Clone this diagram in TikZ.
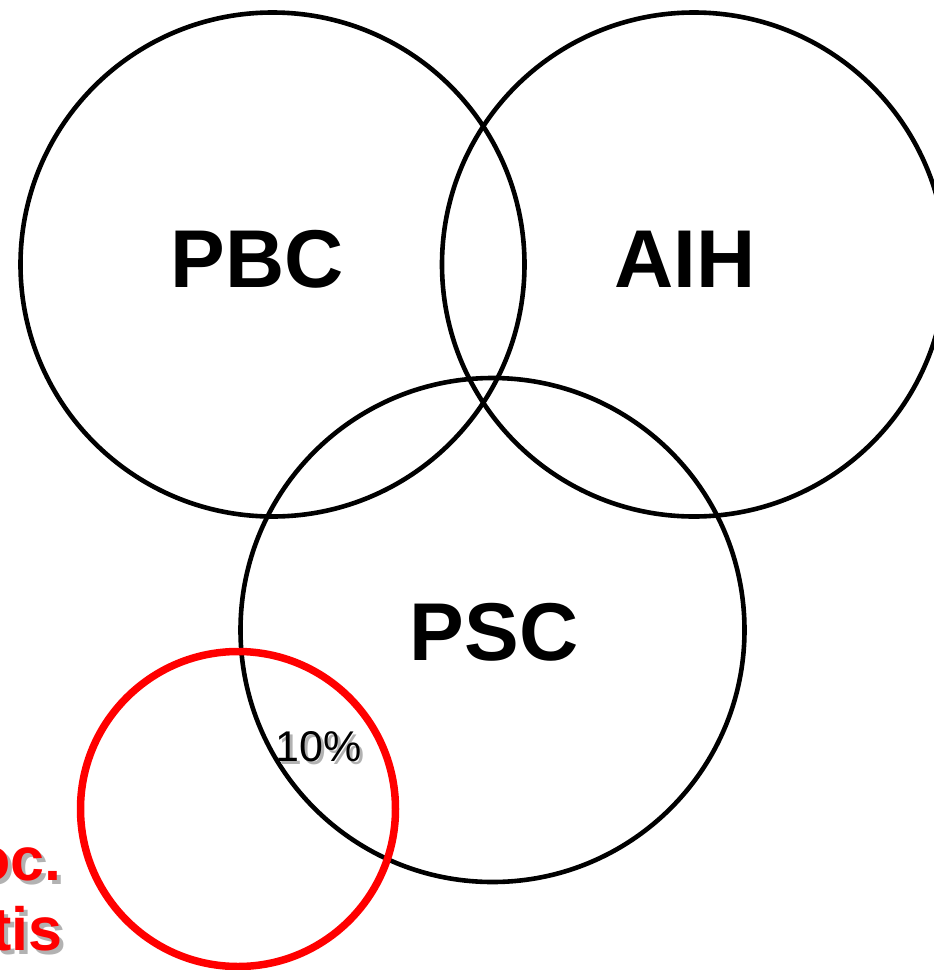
\documentclass[tikz,border=0pt]{standalone}
\usepackage{fontspec}
\setmainfont{Liberation Sans}
\usepackage{tikz}

\begin{document}
\begin{tikzpicture}[
    x=1pt, y=-1pt,
    ring/.style={
        circle, draw=black, line width=4.6pt,
        minimum size=504pt, inner sep=0pt
    },
    redring/.style={
        circle, draw=red, line width=7.5pt,
        minimum size=315pt, inner sep=0pt
    },
    big/.style={font=\fontsize{82}{98}\bfseries\selectfont, inner sep=0pt},
    pct/.style={font=\fontsize{43}{52}\selectfont, inner sep=0pt},
    redlbl/.style={font=\fontsize{61}{70}\bfseries\selectfont, text=red,
        inner sep=0pt, anchor=base east},
    shade/.style={text=black!30}
]
\useasboundingbox (0,0) rectangle (934,970);

\node[ring]    (pbc)  at (272.5, 264.5) {};
\node[ring]    (aih)  at (694,   264.5) {};
\node[ring]    (psc)  at (492.5, 630)   {};
\node[redring] (ibd)  at (238,   809)   {};

\node[big] (pbctxt) at (257, 259) {PBC};
\node[big] (aihtxt) at (685, 259) {AIH};
\node[big] (psctxt) at (494, 632) {PSC};

\node[pct, shade] (pctshadow) at (322, 750) {10\%};
\node[pct]        (pcttxt)    at (319, 747) {10\%};

\node[redlbl, shade] (occshadow) at (66, 884) {oc.};
\node[redlbl]        (occtxt)    at (62, 880) {oc.};
\node[redlbl, shade] (tisshadow) at (67, 954) {tis};
\node[redlbl]        (tistxt)    at (63, 950) {tis};

\end{tikzpicture}
\end{document}
